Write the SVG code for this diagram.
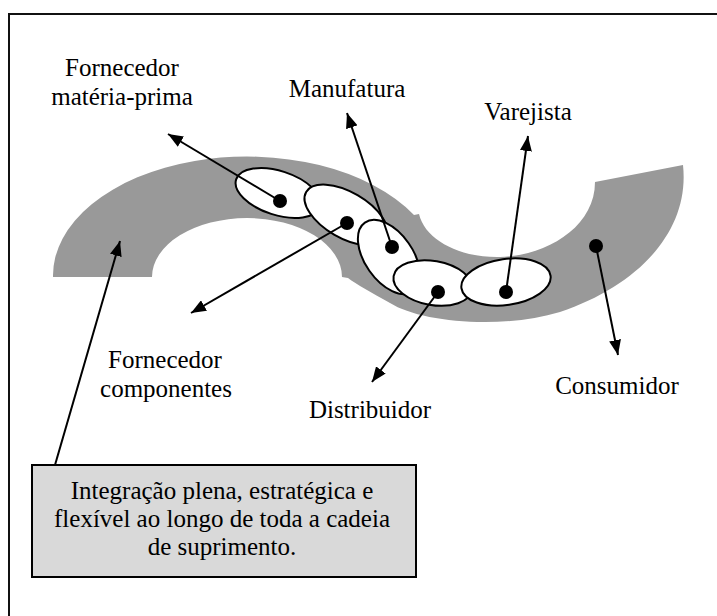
<svg xmlns="http://www.w3.org/2000/svg" width="717" height="616" viewBox="0 0 717 616">
  <style>
    text { font-family: 'Liberation Serif', 'Times New Roman', Times, serif; font-size: 25px; fill: #000; text-anchor: middle; }
    .stage { fill: #fff; stroke: #000; stroke-width: 2; }
    .dot { fill: #000; }
    .conn { stroke: #000; stroke-width: 2; fill: none; marker-end: url(#arrow); }
  </style>
  <defs>
    <marker id="arrow" viewBox="0 0 15 12" refX="15" refY="6" markerWidth="15" markerHeight="12" markerUnits="userSpaceOnUse" orient="auto">
      <path d="M0,0 L15,6 L0,12 z" fill="#000"/>
    </marker>
  </defs>

  <rect width="717" height="616" fill="#fff"/>
  <!-- outer frame, open past the right and bottom edges -->
  <rect x="9" y="14" width="720" height="620" fill="none" stroke="#111" stroke-width="2"/>

  <!-- supply chain band -->
  <g id="band">
    <path d="M53,277 A194,119 0 0 1 414,215 L419,214 C425,240 460,258 500,257 C545,256 595,228 595,182 L683,165 C690,230 640,285 560,312 C500,330 420,322 390,303 C372,293 356,284 348,278 L342,277 A95,59 0 0 0 152,277 Z" fill="#999"/>
  </g>

  <!-- stages -->
  <g id="fornecedor-materia-prima">
    <ellipse class="stage" cx="278" cy="193" rx="44" ry="22" transform="rotate(18 278 193)"/>
  </g>
  <g id="fornecedor-componentes">
    <ellipse class="stage" cx="346" cy="215" rx="46" ry="23" transform="rotate(30 346 215)"/>
  </g>
  <g id="manufatura">
    <ellipse class="stage" cx="389" cy="257" rx="42" ry="24" transform="rotate(55 389 257)"/>
  </g>
  <g id="distribuidor">
    <ellipse class="stage" cx="433" cy="283" rx="40" ry="22" transform="rotate(10 433 283)"/>
  </g>
  <g id="varejista">
    <ellipse class="stage" cx="506" cy="282" rx="45" ry="23" transform="rotate(-8 506 282)"/>
  </g>

  <!-- connectors -->
  <g id="connectors">
    <line class="conn" x1="280" y1="201" x2="168" y2="134"/>
    <line class="conn" x1="347" y1="223" x2="191" y2="313"/>
    <line class="conn" x1="392" y1="247" x2="347" y2="113"/>
    <line class="conn" x1="506" y1="292" x2="528" y2="136"/>
    <line class="conn" x1="438" y1="292" x2="372" y2="382"/>
    <line class="conn" x1="596" y1="246" x2="618" y2="355"/>
    <line class="conn" x1="55" y1="465" x2="120" y2="241"/>
  </g>

  <!-- stage points -->
  <g id="points">
    <circle class="dot" cx="280" cy="201" r="7"/>
    <circle class="dot" cx="347" cy="223" r="7"/>
    <circle class="dot" cx="392" cy="247" r="7"/>
    <circle class="dot" cx="438" cy="292" r="7"/>
    <circle class="dot" cx="506" cy="292" r="7"/>
    <circle class="dot" cx="596" cy="246" r="7"/>
  </g>

  <!-- labels -->
  <g id="label-fornecedor-mp">
    <text x="122" y="76">Fornecedor</text>
    <text x="122" y="105">matéria-prima</text>
  </g>
  <g id="label-manufatura">
    <text x="347" y="97">Manufatura</text>
  </g>
  <g id="label-varejista">
    <text x="528" y="120">Varejista</text>
  </g>
  <g id="label-fornecedor-comp">
    <text x="165" y="368">Fornecedor</text>
    <text x="166" y="397">componentes</text>
  </g>
  <g id="label-distribuidor">
    <text x="370" y="418">Distribuidor</text>
  </g>
  <g id="label-consumidor">
    <text x="617" y="394">Consumidor</text>
  </g>

  <!-- note box -->
  <g id="note">
    <rect x="32" y="465" width="384" height="112" fill="#d9d9d9" stroke="#000" stroke-width="2"/>
    <text x="222" y="499">Integração plena, estratégica e</text>
    <text x="222" y="527">flexível ao longo de toda a cadeia</text>
    <text x="222" y="555">de suprimento.</text>
  </g>
</svg>
